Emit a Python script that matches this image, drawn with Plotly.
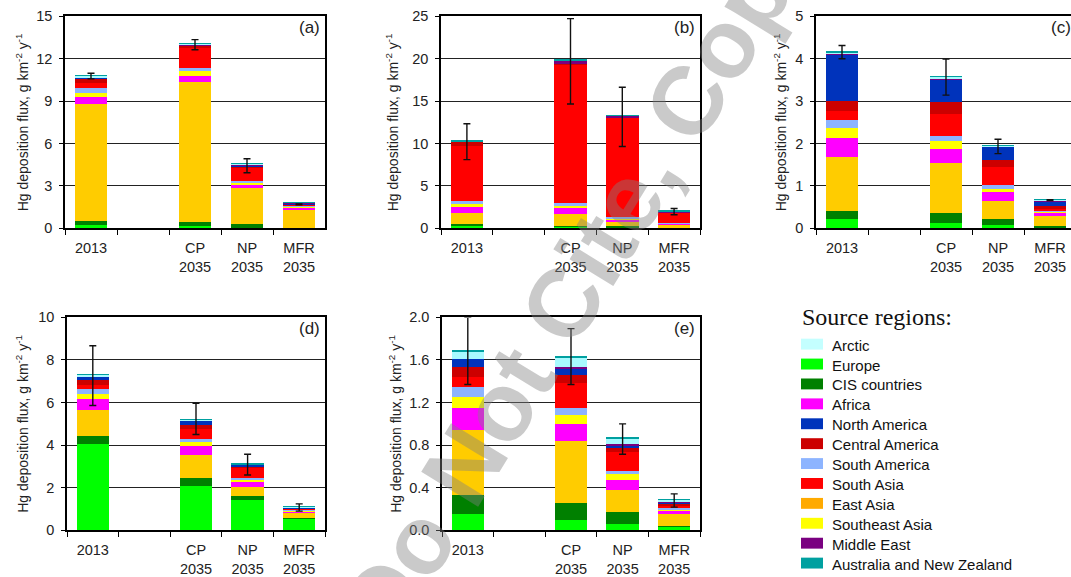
import plotly.graph_objects as go

W, H = 1071, 577

# ---------------- data ----------------
categories = ["2013", " ", "CP<br>2035", "NP<br>2035", "MFR<br>2035"]
bar_categories = ["2013", "CP<br>2035", "NP<br>2035", "MFR<br>2035"]

# stacking order (bottom -> top)
stack_regions = ["Europe", "CIS countries", "East Asia", "Africa", "Southeast Asia",
                 "South America", "South Asia", "Central America", "North America",
                 "Middle East", "Arctic", "Australia and New Zealand"]

# values per scenario [2013, CP 2035, NP 2035, MFR 2035], rows follow stack_regions
panel_a = [
    [0.20, 0.16, 0.05, 0.01],
    [0.30, 0.26, 0.23, 0.02],
    [8.30, 9.96, 2.54, 1.29],
    [0.47, 0.42, 0.28, 0.13],
    [0.33, 0.34, 0.14, 0.07],
    [0.30, 0.23, 0.11, 0.04],
    [0.35, 1.38, 0.95, 0.09],
    [0.30, 0.15, 0.06, 0.03],
    [0.10, 0.03, 0.04, 0.02],
    [0.03, 0.02, 0.12, 0.07],
    [0.10, 0.08, 0.03, 0.02],
    [0.02, 0.02, 0.01, 0.01],
]
panel_b = [
    [0.22, 0.12, 0.08, 0.02],
    [0.24, 0.20, 0.22, 0.03],
    [1.39, 1.41, 0.45, 0.37],
    [0.70, 0.65, 0.25, 0.08],
    [0.30, 0.24, 0.15, 0.05],
    [0.35, 0.30, 0.23, 0.03],
    [6.55, 16.38, 11.60, 1.22],
    [0.43, 0.10, 0.07, 0.02],
    [0.02, 0.02, 0.02, 0.01],
    [0.02, 0.36, 0.18, 0.14],
    [0.03, 0.02, 0.03, 0.02],
    [0.13, 0.03, 0.02, 0.01],
]
panel_c = [
    [0.21, 0.12, 0.07, 0.02],
    [0.20, 0.23, 0.14, 0.03],
    [1.27, 1.19, 0.43, 0.24],
    [0.44, 0.34, 0.21, 0.07],
    [0.24, 0.18, 0.08, 0.03],
    [0.20, 0.12, 0.10, 0.02],
    [0.20, 0.52, 0.41, 0.05],
    [0.25, 0.29, 0.16, 0.06],
    [1.07, 0.51, 0.32, 0.11],
    [0.04, 0.01, 0.01, 0.01],
    [0.02, 0.06, 0.01, 0.03],
    [0.04, 0.01, 0.01, 0.01],
]
panel_d = [
    [4.06, 2.09, 1.40, 0.55],
    [0.36, 0.36, 0.23, 0.02],
    [1.24, 1.08, 0.42, 0.25],
    [0.51, 0.42, 0.22, 0.06],
    [0.23, 0.21, 0.08, 0.04],
    [0.22, 0.13, 0.10, 0.03],
    [0.20, 0.49, 0.48, 0.04],
    [0.23, 0.18, 0.04, 0.03],
    [0.15, 0.16, 0.08, 0.04],
    [0.02, 0.02, 0.03, 0.01],
    [0.06, 0.04, 0.01, 0.02],
    [0.02, 0.01, 0.01, 0.01],
]
panel_e = [
    [0.150, 0.093, 0.056, 0.030],
    [0.177, 0.165, 0.115, 0.010],
    [0.613, 0.582, 0.209, 0.110],
    [0.210, 0.160, 0.093, 0.030],
    [0.103, 0.080, 0.057, 0.015],
    [0.094, 0.065, 0.030, 0.010],
    [0.093, 0.239, 0.177, 0.025],
    [0.090, 0.072, 0.041, 0.015],
    [0.080, 0.059, 0.017, 0.010],
    [0.002, 0.015, 0.015, 0.010],
    [0.068, 0.094, 0.045, 0.020],
    [0.015, 0.016, 0.022, 0.005],
]

# uncertainty ranges (low / high ends of the error bars)
err_lo_a = [10.57, 12.63, 3.93, 1.66]
err_hi_a = [10.97, 13.35, 4.92, 1.72]
err_lo_b = [8.09, 14.66, 9.64, 1.60]
err_hi_b = [12.33, 24.73, 16.64, 2.33]
err_lo_c = [4.00, 3.14, 1.76, 0.655]
err_hi_c = [4.31, 3.99, 2.10, 0.675]
err_lo_d = [5.86, 4.50, 2.60, 0.90]
err_hi_d = [8.67, 5.97, 3.57, 1.24]
err_lo_e = [1.37, 1.37, 0.715, 0.218]
err_hi_e = [2.00, 1.894, 1.00, 0.342]

panel_labels = ["(a)", "(b)", "(c)", "(d)", "(e)"]
y_ranges = [[0, 15], [0, 25], [0, 5], [0, 10], [0, 2]]
y_dticks = [3, 5, 1, 2, 0.4]

legend_regions = ["Arctic", "Europe", "CIS countries", "Africa", "North America",
                  "Central America", "South America", "South Asia", "East Asia",
                  "Southeast Asia", "Middle East", "Australia and New Zealand"]

watermark_text = "<b>Do Not Cite, Copy</b>"

# ---------------- styles ----------------
bar_colors = {
    "Arctic": "#A8FAFF",
    "Europe": "#00FF00",
    "CIS countries": "#008000",
    "Africa": "#FF00FF",
    "North America": "#0033BB",
    "Central America": "#CC0000",
    "South America": "#8DB4FF",
    "South Asia": "#FF0000",
    "East Asia": "#FFCC00",
    "Southeast Asia": "#FFFF00",
    "Middle East": "#7A0080",
    "Australia and New Zealand": "#00A0A0",
}
legend_colors = dict(bar_colors)
legend_colors["Arctic"] = "#C4FFFF"
legend_colors["East Asia"] = "#FFAA00"

# panel plot-area boxes in pixels: (left, right, top, bottom)
boxes = [
    (65, 325, 16, 230),
    (441, 700, 16, 230),
    (816, 1076, 16, 230),
    (67, 325, 320, 535),
    (442, 700, 320, 535),
]
ytitle_x = [22, 392, 780, 22, 395]

FONT = "Liberation Sans, Arial, sans-serif"

# vertical calibration of the rendered page (observed offset / scale)
Y_OFF, Y_SCALE = 7.6, 0.966


def px(x):
    return x / W


def py(y):
    return 1 - ((y - Y_OFF) / Y_SCALE) / H


fig = go.Figure()
layout = {}
annotations = []
shapes = []

panels = [panel_a, panel_b, panel_c, panel_d, panel_e]
errs = [(err_lo_a, err_hi_a), (err_lo_b, err_hi_b), (err_lo_c, err_hi_c),
        (err_lo_d, err_hi_d), (err_lo_e, err_hi_e)]

for i, (pdata, (elo, ehi)) in enumerate(zip(panels, errs)):
    n = i + 1
    xa = "x" if n == 1 else f"x{n}"
    ya = "y" if n == 1 else f"y{n}"
    for reg, vals in zip(stack_regions, pdata):
        yv = [vals[0], None, vals[1], vals[2], vals[3]]
        fig.add_trace(go.Bar(
            x=categories, y=yv, name=reg, xaxis=xa, yaxis=ya,
            marker=dict(color=bar_colors[reg], line=dict(width=0)),
            showlegend=False, hoverinfo="skip",
        ))
    mid = [(a + b) / 2 for a, b in zip(elo, ehi)]
    half = [(b - a) / 2 for a, b in zip(elo, ehi)]
    fig.add_trace(go.Scatter(
        x=bar_categories, y=mid, xaxis=xa, yaxis=ya, mode="markers",
        marker=dict(size=1, color="rgba(0,0,0,0)"),
        error_y=dict(type="data", array=half, symmetric=True, color="#111",
                     thickness=1.4, width=3.5),
        showlegend=False, hoverinfo="skip",
    ))

    l, r, t, b = boxes[i]
    slot = (r - l) / 5.0
    xr = [-0.5, 4.5]
    dom_r = px(r)
    if dom_r > 1:
        dom_r = 1.0
        xr = [-0.5, -0.5 + (W - l) / slot]
    xkey = "xaxis" if n == 1 else f"xaxis{n}"
    ykey = "yaxis" if n == 1 else f"yaxis{n}"
    layout[xkey] = dict(
        domain=[px(l), dom_r], anchor=ya, type="category",
        categoryorder="array", categoryarray=categories, range=xr,
        showline=True, linecolor="#000", linewidth=1.5, mirror=True,
        ticks="outside", tickson="boundaries", ticklen=5, tickcolor="#000",
        tickwidth=1, showgrid=False,
        tickfont=dict(family=FONT, size=14.5, color="#222"),
        ticklabelstandoff=6,
    )
    layout[ykey] = dict(
        domain=[py(b), py(t)], anchor=xa, range=y_ranges[i], dtick=y_dticks[i],
        tick0=0, showline=True, linecolor="#000", linewidth=1.5,
        mirror=(n != 3), ticks="outside", ticklen=4, tickcolor="#000",
        showgrid=True, gridcolor="#222", gridwidth=1.2, zeroline=False,
        tickfont=dict(family=FONT, size=14.5, color="#222"),
        tickformat=".1f" if n == 5 else "d",
        ticklabelstandoff=4,
    )
    annotations.append(dict(
        x=px(ytitle_x[i]), y=py((t + b) / 2), xref="paper", yref="paper",
        text="Hg deposition flux, g km<sup>-2</sup> y<sup>-1</sup>",
        textangle=-90, showarrow=False, xanchor="center", yanchor="middle",
        font=dict(family=FONT, size=14, color="#222"),
    ))
    annotations.append(dict(
        x=px(r - 3), y=py(t + 11), xref="paper", yref="paper",
        text=panel_labels[i], showarrow=False, xanchor="right", yanchor="middle",
        font=dict(family=FONT, size=17, color="#222"),
    ))

# legend
annotations.append(dict(
    x=px(800), y=py(320), xref="paper", yref="paper", text="Source regions:",
    showarrow=False, xanchor="left", yanchor="middle",
    font=dict(family="Liberation Serif, Times New Roman, serif", size=24, color="#111"),
))
for k, reg in enumerate(legend_regions):
    yc = 347 + 20.1 * k
    shapes.append(dict(
        type="rect", xref="paper", yref="paper",
        x0=px(801), x1=px(823), y0=py(yc + 5.5), y1=py(yc - 5.5),
        fillcolor=legend_colors[reg], line=dict(width=0),
    ))
    annotations.append(dict(
        x=px(830), y=py(yc + 1), xref="paper", yref="paper", text=reg,
        showarrow=False, xanchor="left", yanchor="middle",
        font=dict(family=FONT, size=15, color="#111"),
    ))

# watermark
annotations.append(dict(
    x=px(580), y=py(279), xref="paper", yref="paper", text=watermark_text,
    showarrow=False, textangle=-58.5, xanchor="center", yanchor="middle",
    font=dict(family=FONT, size=97, color="rgba(128,128,128,0.42)"),
))

fig.update_layout(
    width=W, height=H, margin=dict(l=0, r=0, t=0, b=0),
    paper_bgcolor="white", plot_bgcolor="white",
    barmode="stack", bargap=0.37,
    annotations=annotations, shapes=shapes,
    **layout,
)

fig.write_html(
    "out.html",
    config={"displayModeBar": False},
    post_script=(
        "document.documentElement.style.margin='0';"
        "document.body.style.margin='0';document.body.style.overflow='hidden';"
        "var gd=document.getElementById('{plot_id}');"
        "gd.style.position='fixed';gd.style.top='0px';gd.style.left='0px';"
    ),
)
